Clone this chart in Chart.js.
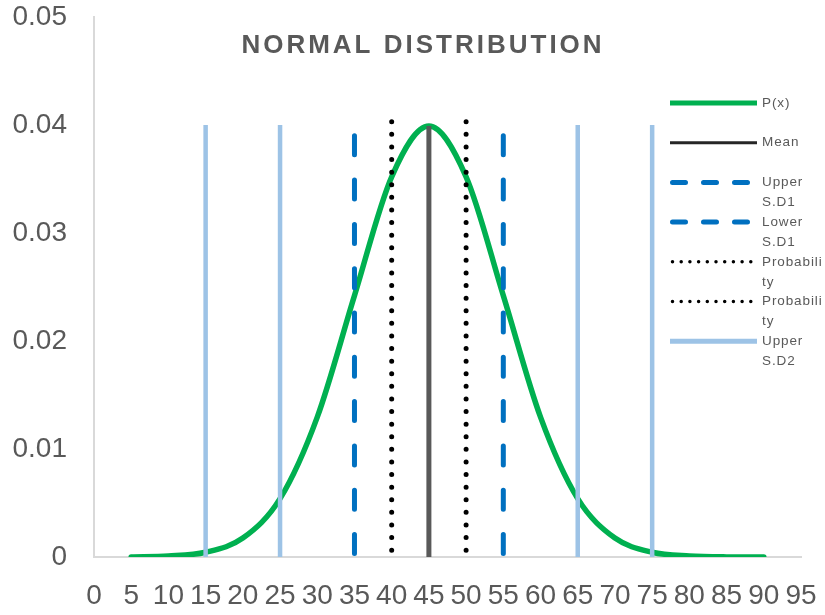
<!DOCTYPE html>
<html>
<head>
<meta charset="utf-8">
<title>Normal Distribution</title>
<script src="https://cdn.jsdelivr.net/npm/chart.js@4.4.1/dist/chart.umd.min.js"></script>
<style>
  html, body { margin: 0; padding: 0; background: #fff; }
  #wrap { width: 825px; height: 615px; }
</style>
</head>
<body>
<div id="wrap"><canvas id="chart"></canvas></div>
<script>
// x values of the curve and P(x) read at each step
const xValues = [5, 10, 15, 20, 25, 30, 35, 40, 45, 50, 55, 60, 65, 70, 75, 80, 85, 90];
const pValues = [0.00001, 0.00009, 0.00044, 0.00175, 0.0054, 0.01295, 0.0242, 0.0352, 0.0399,
                 0.0352, 0.0242, 0.01295, 0.0054, 0.00175, 0.00044, 0.00009, 0.00001, 0.000002];

// marker lines: position and height
const meanX = 45, meanTop = 0.0399;
const sd1X = [55, 35], sd1Top = 0.039;
const probX = [40, 50], probTop = 0.0403;
const sd2X = [65, 25, 75, 15], sd2Top = 0.04;

const seriesNames = ["P(x)", "Mean", "Upper S.D1", "Lower S.D1", "Probability", "Probability",
                     "Upper S.D2", "Lower S.D2", "Upper S.D3", "Lower S.D3"];
const xTicks = [0, 5, 10, 15, 20, 25, 30, 35, 40, 45, 50, 55, 60, 65, 70, 75, 80, 85, 90, 95];
const yTicks = [0, 0.01, 0.02, 0.03, 0.04, 0.05];

// wrapped legend text, as it sits in the narrow legend column
const legendText = [["P(x)"], ["Mean"], ["Upper", "S.D1"], ["Lower", "S.D1"],
                    ["Probabili", "ty"], ["Probabili", "ty"], ["Upper", "S.D2"]];

const GREEN = "#00b050", GREY = "#595959", BLUE = "#0070c0", LIGHT = "#9dc3e6";

// vertical marker, drawn top-down so the dash pattern starts at the top
function vline(label, x, top, color, dash, width) {
  return {
    label: label,
    data: [{ x: x, y: top }, { x: x, y: 0 }],
    borderColor: color,
    backgroundColor: color,
    borderWidth: width,
    borderDash: dash,
    borderCapStyle: dash.length ? "round" : "butt",
    pointRadius: 0,
    order: 1,
  };
}

const datasets = [
  {
    label: seriesNames[0],
    data: xValues.map((x, i) => ({ x: x, y: pValues[i] })),
    borderColor: GREEN,
    backgroundColor: GREEN,
    borderWidth: 5.5,
    cubicInterpolationMode: "monotone",
    borderCapStyle: "round",
    pointRadius: 0,
    order: 5,
  },
  vline(seriesNames[1], meanX, meanTop, GREY, [], 5),
  vline(seriesNames[2], sd1X[0], sd1Top, BLUE, [19, 25.3], 5),
  vline(seriesNames[3], sd1X[1], sd1Top, BLUE, [19, 25.3], 5),
  vline(seriesNames[4], probX[0], probTop, "#000", [0, 12.6], 5),
  vline(seriesNames[5], probX[1], probTop, "#000", [0, 12.6], 5),
  vline(seriesNames[6], sd2X[0], sd2Top, LIGHT, [], 4.5),
  vline(seriesNames[7], sd2X[1], sd2Top, LIGHT, [], 4.5),
  vline(seriesNames[8], sd2X[2], sd2Top, LIGHT, [], 4.5),
  vline(seriesNames[9], sd2X[3], sd2Top, LIGHT, [], 4.5),
];

// title with letter spacing
const titlePlugin = {
  id: "spacedTitle",
  afterDraw(chart) {
    const ctx = chart.ctx;
    ctx.save();
    ctx.font = "bold 26px 'Liberation Sans', Arial, sans-serif";
    ctx.letterSpacing = "3px";
    ctx.fillStyle = GREY;
    ctx.textAlign = "center";
    ctx.textBaseline = "middle";
    ctx.fillText("NORMAL DISTRIBUTION", 423, 46);
    ctx.restore();
  },
};

// legend column on the right, samples drawn from the dataset styles
const legendPlugin = {
  id: "sideLegend",
  afterDraw(chart) {
    const ctx = chart.ctx;
    const x0 = 670, x1 = 757, tx = 762;
    ctx.save();
    ctx.font = "13.5px 'Liberation Sans', Arial, sans-serif";
    ctx.letterSpacing = "0.9px";
    ctx.textBaseline = "middle";
    legendText.forEach((lines, i) => {
      const ds = chart.data.datasets[i];
      const y = 103 + i * 39.7;
      ctx.beginPath();
      ctx.strokeStyle = ds.borderColor;
      if (i === 1) ctx.strokeStyle = "#262626";
      ctx.lineWidth = i === 1 ? 3 : i >= 4 && i <= 5 ? 3.5 : 5;
      if (i === 2 || i === 3) { ctx.setLineDash([13, 18]); ctx.lineCap = "round"; }
      else if (i === 4 || i === 5) { ctx.setLineDash([0, 8.7]); ctx.lineCap = "round"; }
      else { ctx.setLineDash([]); ctx.lineCap = "butt"; }
      const a = (i >= 2 && i <= 5) ? x0 + 2.5 : x0;
      ctx.moveTo(a, y);
      ctx.lineTo(x1, y);
      ctx.stroke();
      ctx.fillStyle = GREY;
      lines.forEach((t, k) => ctx.fillText(t, tx, y + k * 20));
    });
    ctx.restore();
  },
};

new Chart(document.getElementById("chart"), {
  type: "line",
  data: { datasets: datasets },
  plugins: [titlePlugin, legendPlugin],
  options: {
    responsive: true,
    maintainAspectRatio: false,
    animation: false,
    layout: { padding: 0 },
    plugins: {
      legend: { display: false },
      title: { display: false },
      tooltip: { enabled: false },
    },
    scales: {
      x: {
        type: "linear",
        min: 0,
        max: 95,
        afterBuildTicks: (axis) => { axis.ticks = xTicks.map((v) => ({ value: v })); },
        afterFit: (axis) => {
          axis.height = 58;
          axis.paddingLeft = 0;
          axis.paddingRight = 24;
        },
        grid: { display: false, drawTicks: false },
        border: { color: "#d9d9d9", width: 2 },
        ticks: {
          autoSkip: false,
          maxRotation: 0,
          padding: 22,
          color: GREY,
          font: { family: "'Liberation Sans', Arial, sans-serif", size: 28 },
        },
      },
      y: {
        min: 0,
        max: 0.05,
        afterBuildTicks: (axis) => { axis.ticks = yTicks.map((v) => ({ value: v })); },
        afterFit: (axis) => {
          axis.width = 94;
          axis.paddingTop = 17;
          axis.paddingBottom = 0;
        },
        grid: { display: false, drawTicks: false },
        border: { color: "#d9d9d9", width: 2 },
        ticks: {
          padding: 27,
          color: GREY,
          font: { family: "'Liberation Sans', Arial, sans-serif", size: 28 },
          callback: (v) => (v === 0 ? "0" : v.toFixed(2)),
        },
      },
    },
  },
});
</script>
</body>
</html>
